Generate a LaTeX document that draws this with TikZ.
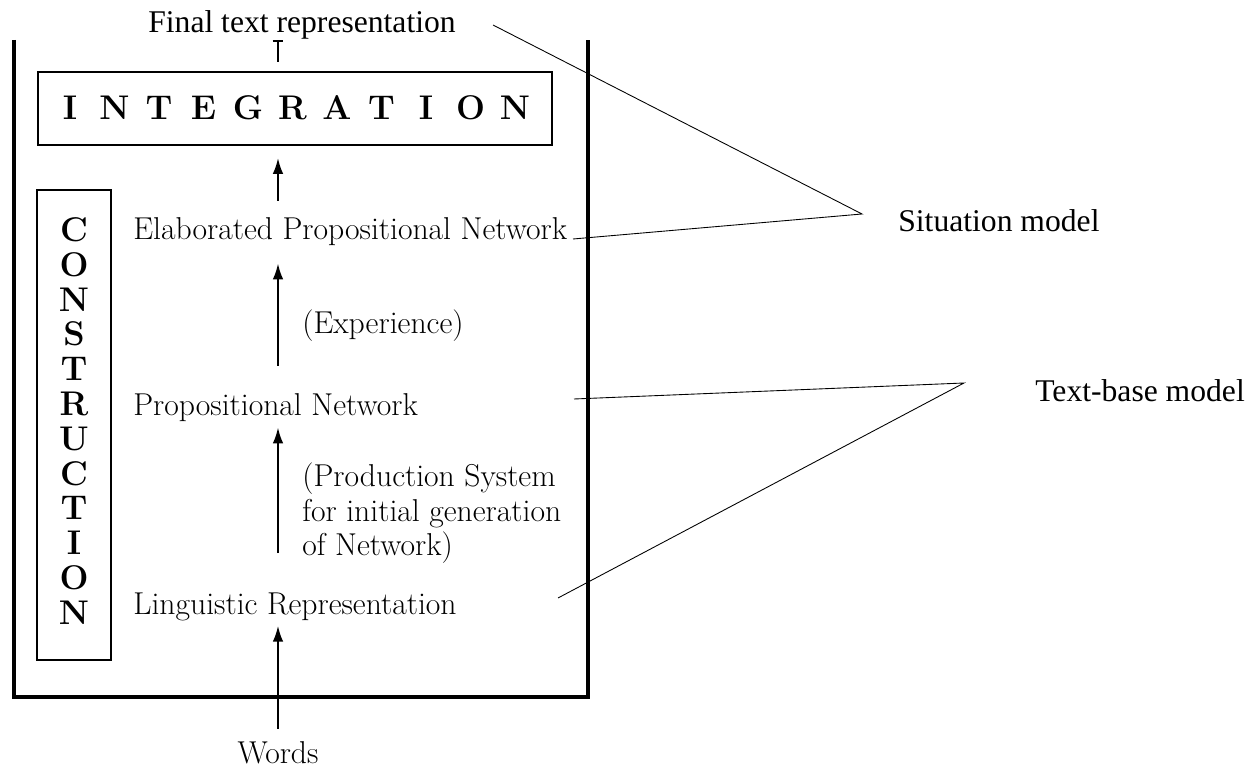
\documentclass[tikz,border=0pt]{standalone}
\usepackage{fontspec}
\IfFontExistsTF{LiberationSerif-Regular.ttf}
  {\newfontfamily\annofont{LiberationSerif-Regular.ttf}}
  {\newfontfamily\annofont{Liberation Serif}}
\usetikzlibrary{arrows.meta}

\tikzset{
  body/.style={font=\fontsize{18}{19.9}\selectfont, inner sep=0pt},
  anno/.style={font=\annofont\fontsize{18}{21}\selectfont, inner sep=0pt},
  stage/.style={font=\fontsize{19.5}{22}\selectfont\bfseries, inner sep=0pt, anchor=base},
  stagebox/.style={draw, line width=1.2pt, inner sep=0pt},
  flow/.style={line width=1.1pt, -{Latex[length=9pt,width=6pt]}},
  leader/.style={line width=0.5pt},
  frame/.style={line width=2pt}
}

\begin{document}
\begin{tikzpicture}[x=0.02cm, y=-0.02cm]
  \useasboundingbox (0,0) rectangle (1249,770);

  % outer frame, open at the top
  \draw[frame] (14,40) -- (14,697) -- (588,697) -- (588,40);

  % the two stage boxes
  \node[stagebox, minimum width=10.28cm, minimum height=1.46cm] (integ) at (295,108.5) {};
  \foreach \ch [count=\i from 0] in {I,N,T,E,G,R,A,T,I,O,N}
    \node[stage] (int-\i) at ({70+44.5*\i},120) {\ch};

  \node[stagebox, minimum width=1.48cm, minimum height=9.4cm] (constr) at (74,425) {};
  \foreach \ch [count=\i from 0] in {C,O,N,S,T,R,U,C,T,I,O,N}
    \node[stage] (con-\i) at (74,{241.5+34.8*\i}) {\ch};

  % levels of representation
  \node[body, anchor=base west] (elab) at (133,240) {Elaborated Propositional Network};
  \node[body, anchor=base west] (exper) at (302,334) {(Experience)};
  \node[body, anchor=base west] (prop) at (133,416) {Propositional Network};
  \node[body, anchor=north west, align=left] (prodsys) at (302,462)
    {(Production System\\for initial generation\\of Network)};
  \node[body, anchor=base west] (ling) at (133,615) {Linguistic Representation};
  \node[body, anchor=base] (words) at (278,763) {Words};

  \draw[flow, shorten <=0.24cm, shorten >=0.08cm] (words.north) -- (words |- ling.south);
  \draw[flow, shorten <=0.8cm, shorten >=0.1cm] (words |- ling.north) -- (words |- prop.south);
  \draw[flow, shorten <=0.56cm, shorten >=0.34cm] (words |- prop.north) -- (words |- elab.south);
  \draw[flow, shorten <=0.34cm, shorten >=0.24cm] (words |- elab.north) -- (words |- integ.south);

  % output
  \node[anno, anchor=base] (final) at (302,33) {Final text representation};
  \draw[line width=1.1pt, -{Bar[width=6pt]}, shorten <=0.18cm] (words |- integ.north) -- (words |- final.south);

  % model labels
  \node[anno, anchor=base west] (sitmodel) at (898,232) {Situation model};
  \node[anno, anchor=base west] (tbmodel) at (1035,402) {Text-base model};

  \coordinate (sit-apex) at (862,214);
  \coordinate (sit-a) at (493,25);
  \coordinate (sit-b) at (573,239);
  \coordinate (tb-apex) at (964,383);
  \coordinate (tb-a) at (574,399);
  \coordinate (tb-b) at (558,598);

  \draw[leader] (sit-a) -- (sit-apex) -- (sit-b);
  \draw[leader] (tb-a) -- (tb-apex) -- (tb-b);
\end{tikzpicture}
\end{document}
